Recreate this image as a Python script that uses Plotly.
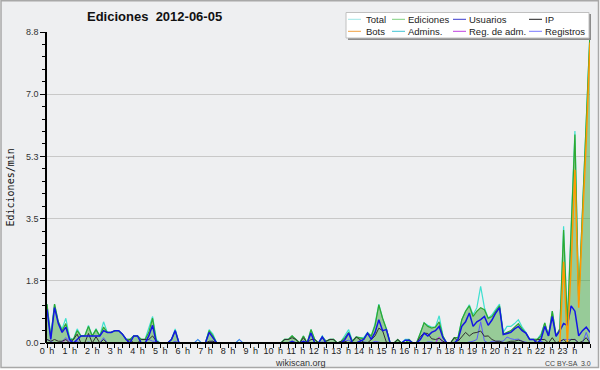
import plotly.graph_objects as go

# ---------------- data (values per 10 minutes, edits/min) ----------------
hour_labels = [f"{h}\u2002h" for h in range(24)]

total = [
    1.1, 0.2, 1.1, 0.6, 0.4, 0.7,
    0.15, 0.1, 0.4, 0.2, 0.2, 0.5,
    0.2, 0.4, 0.2, 0.6, 0.3, 0.3,
    0.35, 0.35, 0.25, 0.1, 0.1, 0.2,
    0.2, 0.1, 0.1, 0.4, 0.75, 0.1,
    0, 0, 0, 0.1, 0.4, 0,
    0, 0, 0, 0, 0.1, 0,
    0, 0.38, 0.25, 0, 0, 0,
    0, 0, 0, 0.1, 0, 0,
    0, 0, 0, 0, 0, 0,
    0, 0, 0, 0.1, 0.1, 0.2,
    0.1, 0, 0.2, 0, 0.38, 0.1,
    0, 0.2, 0.05, 0.1, 0.1, 0,
    0.05, 0.2, 0.38, 0.05, 0.17, 0.15,
    0.15, 0.3, 0.2, 0.55, 1.1, 0.7,
    0.4, 0, 0, 0.1, 0, 0.1,
    0.1, 0, 0, 0.28, 0.57, 0.5,
    0.45, 0.45, 0.77, 0.2, 0, 0,
    0.15, 0.15, 0.66, 0.9, 1.08, 0.8,
    1.0, 1.6, 1.0, 0.7, 0.8, 0.95,
    1.1, 0.3, 0.47, 0.47, 0.55, 0.66,
    0.45, 0.3, 0.1, 0.1, 0.1, 0.25,
    0.57, 0.2, 0.9, 0.2, 0.4, 3.3,
    0.6, 3.3, 6.0, 1.2, 3.8, 6.3,
    8.8,
]

ediciones = [
    1.1, 0.15, 1.1, 0.6, 0.35, 0.55,
    0.1, 0.1, 0.35, 0.2, 0.2, 0.47,
    0.2, 0.38, 0.2, 0.45, 0.3, 0.3,
    0.35, 0.35, 0.25, 0.1, 0.1, 0.2,
    0.2, 0.1, 0.1, 0.3, 0.7, 0.05,
    0, 0, 0, 0.1, 0.35, 0,
    0, 0, 0, 0, 0, 0,
    0, 0.35, 0.2, 0, 0, 0,
    0, 0, 0, 0, 0, 0,
    0, 0, 0, 0, 0, 0,
    0, 0, 0, 0.1, 0.1, 0.2,
    0.1, 0, 0.2, 0, 0.38, 0.1,
    0, 0.17, 0.05, 0.1, 0.1, 0,
    0.05, 0.15, 0.3, 0.05, 0.17, 0.15,
    0.12, 0.28, 0.2, 0.5, 1.08, 0.7,
    0.4, 0, 0, 0.1, 0, 0,
    0.1, 0, 0, 0.28, 0.57, 0.47,
    0.42, 0.45, 0.6, 0.2, 0, 0,
    0.15, 0.15, 0.66, 0.9, 1.05, 0.75,
    0.9, 1.0, 0.94, 0.7, 0.75, 0.9,
    1.05, 0.25, 0.3, 0.35, 0.45, 0.55,
    0.4, 0.28, 0.1, 0.1, 0.1, 0.2,
    0.57, 0.2, 0.9, 0.2, 0.4, 3.2,
    0.5, 3.2, 5.9, 1.2, 3.8, 6.3,
    8.8,
]

usuarios = [
    0.95, 0.1, 1.0, 0.55, 0.3, 0.45,
    0.1, 0, 0.1, 0.2, 0.2, 0.2,
    0.2, 0.2, 0.2, 0.35, 0.3, 0.3,
    0.35, 0.35, 0.25, 0.1, 0, 0.2,
    0.2, 0, 0, 0.2, 0.5, 0,
    0, 0, 0, 0.1, 0.35, 0,
    0, 0, 0, 0, 0, 0,
    0, 0.3, 0.15, 0, 0, 0,
    0, 0, 0, 0, 0, 0,
    0, 0, 0, 0, 0, 0,
    0, 0, 0, 0, 0, 0.05,
    0, 0, 0.05, 0, 0.28, 0,
    0, 0.17, 0, 0, 0, 0,
    0, 0.1, 0.28, 0, 0, 0.05,
    0.1, 0.28, 0.1, 0.3, 0.66, 0.35,
    0.38, 0, 0, 0, 0, 0.08,
    0.08, 0, 0, 0.1, 0.28, 0.2,
    0.3, 0.35, 0.47, 0.15, 0, 0,
    0, 0.1, 0.47, 0.6, 0.85, 0.47,
    0.6, 0.66, 0.75, 0.5, 0.65, 0.85,
    1.0, 0.24, 0.28, 0.3, 0.4, 0.47,
    0.35, 0.28, 0.1, 0.1, 0, 0.1,
    0.47, 0.2, 0.75, 0.19, 0.35, 0.55,
    0.5, 1.05, 0.9, 0.2, 0.35, 0.45,
    0.3,
]

ip = [
    0.1, 0.05, 0.1, 0.05, 0.05, 0.1,
    0, 0.1, 0.25, 0, 0, 0.27,
    0, 0.18, 0, 0.1, 0, 0,
    0, 0, 0, 0, 0.1, 0,
    0, 0.1, 0.1, 0.1, 0.2, 0.05,
    0, 0, 0, 0, 0, 0,
    0, 0, 0, 0, 0, 0,
    0, 0.05, 0.05, 0, 0, 0,
    0, 0, 0, 0, 0, 0,
    0, 0, 0, 0, 0, 0,
    0, 0, 0, 0.1, 0.1, 0.15,
    0.1, 0, 0.15, 0, 0.1, 0.1,
    0, 0, 0.05, 0.1, 0.1, 0,
    0.05, 0.05, 0, 0.05, 0.17, 0.1,
    0.02, 0, 0.1, 0.2, 0.42, 0.35,
    0.02, 0, 0, 0.1, 0, 0,
    0.02, 0, 0, 0.18, 0.28, 0.27,
    0.12, 0.1, 0.13, 0.05, 0, 0,
    0.15, 0.05, 0.19, 0.3, 0.2, 0.28,
    0.3, 0.34, 0.19, 0.2, 0.1, 0.05,
    0.05, 0.01, 0.02, 0.05, 0.05, 0.08,
    0.05, 0, 0, 0, 0.1, 0.1,
    0.1, 0, 0.15, 0, 0.05, 0.1,
    0, 0.1, 0.1, 0, 0.05, 0.15,
    0,
]

# bots only active at the end of the day (no edits before 22:40)
bots = [None] * 136 + [0, 2.3, 0, 2.2, 4.9, 1.0, 3.4, 5.7, 8.5]

registros = [
    0.1, 0.05, 0, 0, 0.05, 0.15,
    0.05, 0, 0.05, 0, 0, 0.03,
    0, 0.02, 0, 0.15, 0, 0,
    0, 0, 0, 0, 0, 0,
    0, 0, 0, 0.1, 0.05, 0.05,
    0, 0, 0, 0, 0.05, 0,
    0, 0, 0, 0, 0.1, 0,
    0, 0.03, 0.05, 0, 0, 0,
    0, 0, 0, 0.1, 0, 0,
    0, 0, 0, 0, 0, 0,
    0, 0, 0, 0, 0, 0,
    0, 0, 0, 0, 0, 0,
    0, 0.03, 0, 0, 0, 0,
    0, 0.05, 0.08, 0, 0, 0,
    0.03, 0.02, 0, 0.05, 0.02, 0,
    0, 0, 0, 0, 0, 0,
    0, 0, 0, 0, 0, 0.03,
    0.03, 0, 0.17, 0, 0, 0,
    0, 0, 0, 0, 0.03, 0.05,
    0.1, 0.6, 0.06, 0, 0.05, 0.05,
    0.05, 0.05, 0.17, 0.12, 0.1, 0.11,
    0.05, 0.02, 0, 0, 0, 0.05,
    0, 0, 0, 0.01, 0, 0.1,
    0.1, 0.1, 0.1, 0, 0, 0.3,
    0,
]

reg_adm = [None] * 4 + [0, 0.1, 0] + [None] * 96 + [0, 0.17, 0] + [None] * 39
admins = [None] * 145

x_hours = [i / 6 for i in range(145)]

legend_columns = [["Total", "Bots"], ["Ediciones", "Admins."],
                  ["Usuarios", "Reg. de adm."], ["IP", "Registros"]]

# ---------------- styling ----------------
C_TOTAL = "#3fe0d0"
C_EDI = "#2fa82f"
C_USU = "#1414e6"
C_IP = "#303030"
C_BOTS = "#ff9a00"
C_ADM = "#3cc4d4"
C_REGADM = "#c63cf0"
C_REG = "#5a5aff"
legend_colors = [["#9fe6e6", "#f0a040"], ["#7fd07f", "#40c4d4"],
                 ["#3a3acc", "#c040e0"], ["#202020", "#7878ff"]]

BG = "#eeeff1"
L, R, T, B = 47, 10, 32, 27
W, H = 600, 370
PW, PH = W - L - R, H - T - B


def px(x):
    return (x - L) / PW


def py(y):
    return (H - B - y) / PH


fig = go.Figure()
fig.add_trace(go.Scatter(x=x_hours, y=total, mode="lines",
                         line=dict(color=C_TOTAL, width=1.2), name="Total"))
fig.add_trace(go.Scatter(x=x_hours, y=ediciones, mode="lines", fill="tozeroy",
                         fillcolor="rgba(45,160,45,0.45)",
                         line=dict(color=C_EDI, width=1.2), name="Ediciones"))
fig.add_trace(go.Scatter(x=x_hours, y=admins, mode="lines",
                         line=dict(color=C_ADM, width=1), name="Admins."))
fig.add_trace(go.Scatter(x=x_hours, y=registros, mode="lines",
                         line=dict(color=C_REG, width=1), name="Registros"))
fig.add_trace(go.Scatter(x=x_hours, y=reg_adm, mode="lines",
                         line=dict(color=C_REGADM, width=1), name="Reg. de adm."))
fig.add_trace(go.Scatter(x=x_hours, y=ip, mode="lines",
                         line=dict(color=C_IP, width=1), name="IP"))
fig.add_trace(go.Scatter(x=x_hours, y=usuarios, mode="lines",
                         line=dict(color=C_USU, width=1.5), name="Usuarios"))
fig.add_trace(go.Scatter(x=x_hours, y=bots, mode="lines",
                         line=dict(color=C_BOTS, width=1.5), name="Bots"))

ymax = 8.8
ytickvals = [ymax * k / 5 for k in range(6)]
yticktext = ["0.0", "1.8", "3.5", "5.3", "7.0", "8.8"]
yminor = [ymax * k / 25 for k in range(26) if k % 5]

fig.update_layout(
    width=W, height=H, showlegend=False,
    margin=dict(l=L, r=R, t=T, b=B, pad=0, autoexpand=False),
    paper_bgcolor="white", plot_bgcolor=BG,
    font=dict(family="Liberation Sans", size=10, color="#222"),
    xaxis=dict(range=[0, 24], tickvals=list(range(24)), ticktext=hour_labels,
               tickangle=0, automargin=False, ticklabelstandoff=-5,
               ticks="outside", ticklen=4, tickcolor="black", tickwidth=1,
               showline=False, showgrid=False, zeroline=False,
               tickfont=dict(family="Liberation Sans", size=9, color="#222"),
               minor=dict(dtick=1 / 3, tick0=0, ticks="outside", ticklen=4,
                          tickcolor="black", showgrid=False)),
    yaxis=dict(range=[0, ymax], tickvals=ytickvals, ticktext=yticktext,
               automargin=False,
               ticks="outside", ticklen=5, tickcolor="black", tickwidth=1,
               showline=True, linecolor="black", linewidth=1.5,
               showgrid=True, gridcolor="#c8c8c8", gridwidth=1, zeroline=False,
               tickfont=dict(family="Liberation Sans", size=9, color="#333"),
               minor=dict(tickvals=yminor, ticks="outside", ticklen=3,
                          tickcolor="black", showgrid=False)),
)

shapes = [
    dict(type="rect", xref="paper", yref="paper", layer="below",
         x0=px(1), x1=px(598.5), y0=py(367.5), y1=py(0.8),
         fillcolor=BG, line=dict(color="#a8a8a8", width=1.5)),
    # x-axis baseline drawn above the traces
    dict(type="line", xref="paper", yref="paper", layer="above",
         x0=px(46), x1=1, y0=0, y1=0, line=dict(color="black", width=2)),
    # legend box shadow + box
    dict(type="rect", xref="paper", yref="paper",
         x0=px(348), x1=px(591), y0=py(40), y1=py(14),
         fillcolor="#8c8c8c", line=dict(width=0)),
    dict(type="rect", xref="paper", yref="paper",
         x0=px(346), x1=px(589), y0=py(38), y1=py(12.5),
         fillcolor="white", line=dict(color="#c0c0c0", width=1)),
]
annotations = [
    dict(text="<b>Ediciones  2012-06-05</b>", xref="paper", yref="paper",
         x=px(154), y=py(16), xanchor="center", yanchor="middle", showarrow=False,
         font=dict(family="Liberation Sans", size=13, color="#111")),
    dict(text="Ediciones/min", xref="paper", yref="paper", x=px(10), y=py(187.5),
         xanchor="center", yanchor="middle", showarrow=False, textangle=-90,
         font=dict(family="DejaVu Sans Mono", size=10, color="#111")),
    dict(text="wikiscan.org", xref="paper", yref="paper", x=px(300), y=py(362.5),
         xanchor="center", yanchor="middle", showarrow=False, borderpad=0,
         font=dict(family="Liberation Sans", size=9, color="#333")),
    dict(text="CC BY-SA  3.0", xref="paper", yref="paper", x=px(592), y=py(363),
         xanchor="right", yanchor="middle", showarrow=False, borderpad=0,
         font=dict(family="Liberation Sans", size=7, color="#444")),
]

col_line_x = [348, 392, 453, 529]
col_text_x = [365, 407, 468, 544]
row_y = [19.3, 31.3]
for c, col in enumerate(legend_columns):
    for r in range(2):
        shapes.append(dict(type="line", xref="paper", yref="paper",
                           x0=px(col_line_x[c]), x1=px(col_line_x[c] + 13),
                           y0=py(row_y[r]), y1=py(row_y[r]),
                           line=dict(color=legend_colors[c][r], width=1)))
    annotations.append(dict(text="<br>".join(col), xref="paper", yref="paper",
                            x=px(col_text_x[c]), y=py((row_y[0] + row_y[1]) / 2),
                            xanchor="left", yanchor="middle", align="left",
                            showarrow=False, borderpad=0,
                            font=dict(family="Liberation Sans", size=9.5, color="#222")))

fig.update_layout(shapes=shapes, annotations=annotations)
fig.write_html("out.html", config={"displayModeBar": False},
               post_script="document.body.style.margin='0px';")
